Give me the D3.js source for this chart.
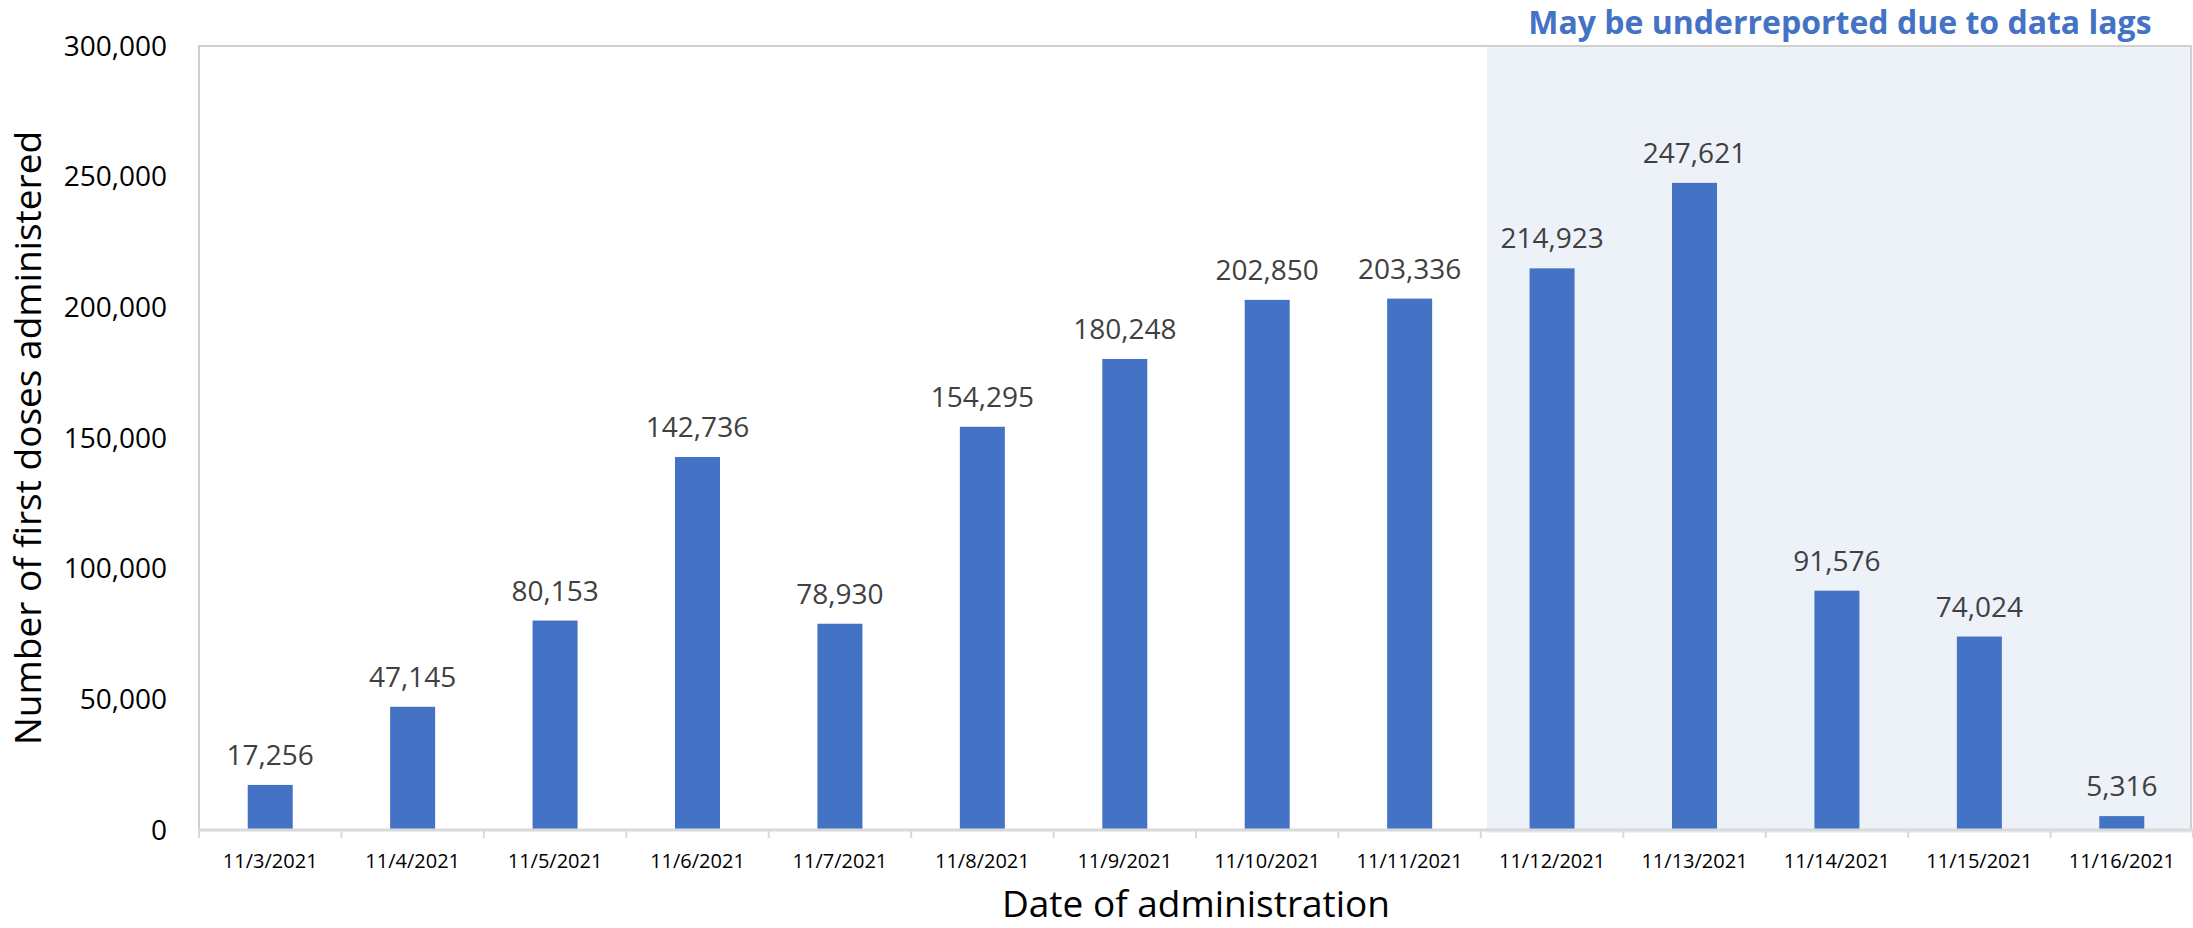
<!DOCTYPE html>
<html>
<head>
<meta charset="utf-8">
<script src="https://cdn.jsdelivr.net/npm/d3@7"></script>
<style>
  body { margin: 0; background: #fff; }
  text { font-family: "Open Sans", "Noto Sans", sans-serif; }
</style>
</head>
<body>
<script>
// chart data
const dates = ["11/3/2021", "11/4/2021", "11/5/2021", "11/6/2021", "11/7/2021", "11/8/2021", "11/9/2021",
    "11/10/2021", "11/11/2021", "11/12/2021", "11/13/2021", "11/14/2021", "11/15/2021", "11/16/2021"];
const firstDoses = [17256, 47145, 80153, 142736, 78930, 154295, 180248,
    202850, 203336, 214923, 247621, 91576, 74024, 5316];
const yTicks = [0, 50000, 100000, 150000, 200000, 250000, 300000];
const lagStart = "11/12/2021";
const lagNote = "May be underreported due to data lags";
const xTitle = "Date of administration";
const yTitle = "Number of first doses administered";

function createChart() {
    const svgWidth = 2193, svgHeight = 928;
    const margin = { top: 46, right: 0, bottom: 98, left: 199 };
    const width = svgWidth - margin.left - margin.right;
    const height = svgHeight - margin.top - margin.bottom;

    const data = dates.map((d, i) => ({ date: d, value: firstDoses[i] }));

    const x = d3.scaleBand()
        .domain(dates)
        .range([0, width])
        .paddingInner(0.684)
        .paddingOuter(0.342);
    const step = x.step();
    const y = d3.scaleLinear()
        .domain([0, 300000])
        .range([height, 0]);

    const svg = d3.create("svg")
        .attr("width", svgWidth)
        .attr("height", svgHeight)
        .attr("viewBox", `0 0 ${svgWidth} ${svgHeight}`);

    const g = svg.append("g")
        .attr("transform", `translate(${margin.left},${margin.top})`);

    // shaded "lag" region
    const x0 = step * dates.indexOf(lagStart) + 6;
    g.append("rect")
        .attr("x", x0)
        .attr("y", 1)
        .attr("width", width - x0 - 2)
        .attr("height", height + 2)
        .attr("fill", "#edf2f9");

    // plot border (left/top/right)
    g.append("path")
        .attr("d", `M0,${height}V0H${width - 2}V${height}`)
        .attr("fill", "none")
        .attr("stroke", "#d0d0d0")
        .attr("stroke-width", 2);

    // y axis labels
    g.append("g")
        .selectAll("text")
        .data(yTicks)
        .join("text")
        .attr("x", -32)
        .attr("y", d => y(d))
        .attr("dy", "0.35em")
        .attr("text-anchor", "end")
        .attr("font-size", 28)
        .attr("fill", "#000")
        .text(d => d3.format(",")(d));

    // bars
    g.append("g")
        .selectAll("rect")
        .data(data)
        .join("rect")
        .attr("x", d => x(d.date))
        .attr("y", d => y(d.value))
        .attr("width", x.bandwidth())
        .attr("height", d => y(0) - y(d.value))
        .attr("fill", "#4472c4");

    // value labels
    g.append("g")
        .selectAll("text")
        .data(data)
        .join("text")
        .attr("x", d => x(d.date) + x.bandwidth() / 2)
        .attr("y", d => y(d.value) - 20)
        .attr("text-anchor", "middle")
        .attr("font-size", 28)
        .attr("fill", "#404040")
        .text(d => d3.format(",")(d.value));

    // x axis
    const gx = g.append("g")
        .attr("transform", `translate(0,${height})`);
    gx.append("line")
        .attr("x1", 0).attr("x2", width)
        .attr("stroke", "#d9d9d9")
        .attr("stroke-width", 3);
    gx.selectAll(".tick-mark")
        .data(d3.range(dates.length + 1))
        .join("line")
        .attr("class", "tick-mark")
        .attr("x1", i => i * step).attr("x2", i => i * step)
        .attr("y1", 0).attr("y2", 8)
        .attr("stroke", "#d9d9d9")
        .attr("stroke-width", 2);
    gx.selectAll(".tick-label")
        .data(dates)
        .join("text")
        .attr("class", "tick-label")
        .attr("x", d => x(d) + x.bandwidth() / 2)
        .attr("y", 38)
        .attr("text-anchor", "middle")
        .attr("font-size", 20)
        .attr("fill", "#000")
        .text(d => d);

    // axis titles
    svg.append("text")
        .attr("x", margin.left + width / 2)
        .attr("y", 917)
        .attr("text-anchor", "middle")
        .attr("font-size", 37)
        .attr("fill", "#000")
        .text(xTitle);

    svg.append("text")
        .attr("transform", `translate(41,${margin.top + height / 2}) rotate(-90)`)
        .attr("text-anchor", "middle")
        .attr("font-size", 37)
        .attr("fill", "#000")
        .text(yTitle);

    // note above shaded region
    svg.append("text")
        .attr("x", margin.left + (x0 + width) / 2)
        .attr("y", 34)
        .attr("text-anchor", "middle")
        .attr("font-size", 32)
        .attr("font-weight", "bold")
        .attr("fill", "#4472c4")
        .text(lagNote);

    document.body.append(svg.node());
}

createChart();
</script>
</body>
</html>
